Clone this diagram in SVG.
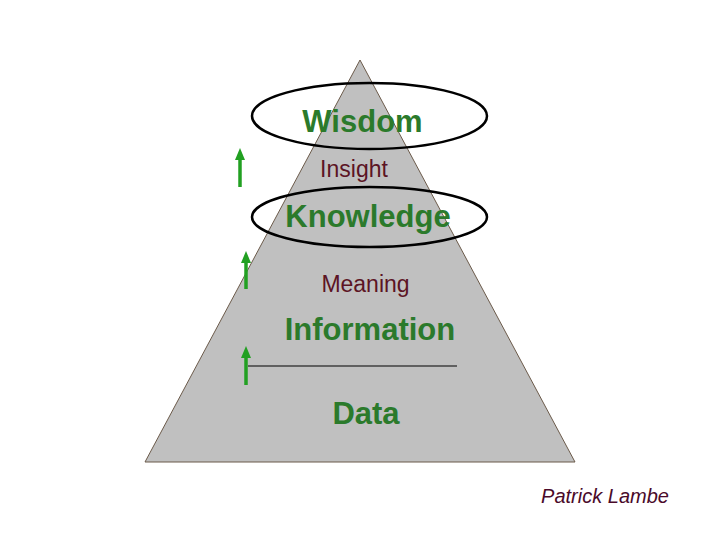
<svg xmlns="http://www.w3.org/2000/svg" width="720" height="540" viewBox="0 0 720 540">
<defs>
<style>
.big{font-family:"Liberation Sans",Arial,sans-serif;font-weight:bold;font-size:31px;fill:#2b7a2b;text-anchor:middle}
.mid{font-family:"Liberation Sans",Arial,sans-serif;font-size:23px;fill:#5c1424;text-anchor:middle}
.ring{fill:none;stroke:#000;stroke-width:2.5}
.arr{stroke:#22a022;stroke-width:3.5;fill:none}
.head{fill:#22a022}
</style>
<marker id="ah" viewBox="0 0 10 10" refX="5" refY="0" markerWidth="3" markerHeight="3" orient="auto-start-reverse" markerUnits="strokeWidth">
<path d="M0,10 L5,0 L10,10 Z" class="head"/>
</marker>
</defs>
<rect width="720" height="540" fill="#fff"/>
<g id="pyramid">
<polygon points="360,60 145,462 575,462" fill="#c0c0c0" stroke="#6b5a4a" stroke-width="1"/>
</g>
<g id="wisdom">
<ellipse class="ring" cx="369.5" cy="116" rx="117.5" ry="33"/>
<text class="big" x="362.5" y="132">Wisdom</text>
</g>
<g id="insight"><text class="mid" x="354" y="177">Insight</text></g>
<g id="knowledge">
<ellipse class="ring" cx="369.5" cy="217" rx="117.5" ry="30"/>
<text class="big" x="368" y="227">Knowledge</text>
</g>
<g id="meaning"><text class="mid" x="365.5" y="292">Meaning</text></g>
<g id="information"><text class="big" x="370" y="340">Information</text></g>
<g id="data"><text class="big" x="366" y="424">Data</text></g>
<g id="connectors">
<line class="arr" x1="240" y1="187" x2="240" y2="159"/>
<polygon class="head" points="235,160 240,148 245,160"/>
<line class="arr" x1="246" y1="289" x2="246" y2="262"/>
<polygon class="head" points="241,263 246,251 251,263"/>
<line class="arr" x1="246" y1="385" x2="246" y2="357"/>
<polygon class="head" points="241,358 246,346 251,358"/>
<line x1="248" y1="366" x2="457" y2="366" stroke="#000" stroke-width="1"/>
</g>
<g id="credit"><text x="605" y="503" font-family="'Liberation Sans',Arial,sans-serif" font-style="italic" font-size="20" fill="#4a0a2a" text-anchor="middle">Patrick Lambe</text></g>
</svg>
